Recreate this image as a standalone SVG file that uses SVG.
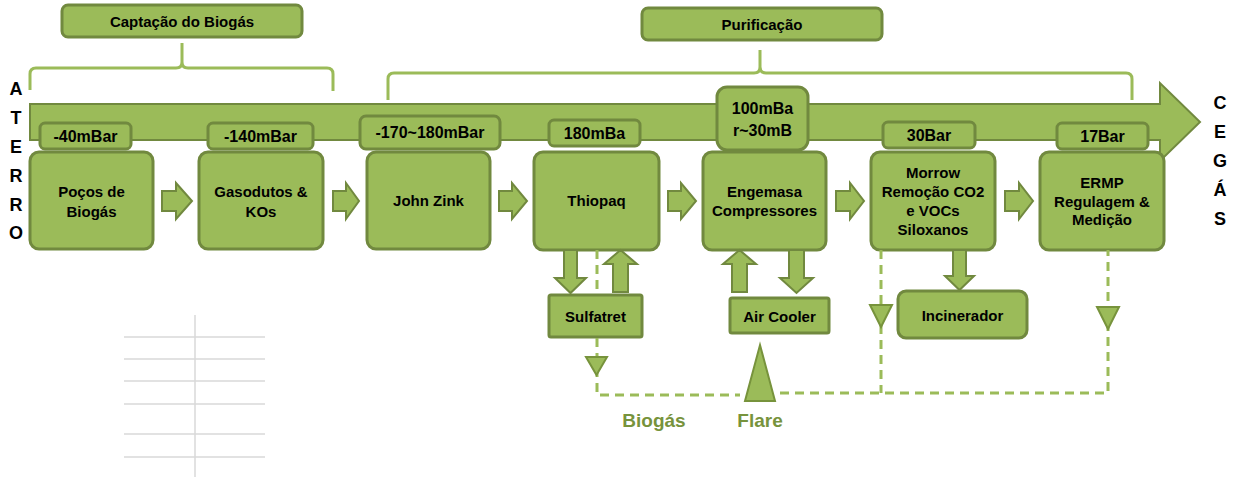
<svg xmlns="http://www.w3.org/2000/svg" width="1236" height="477" viewBox="0 0 1236 477">
<style>
.box{fill:#9BBB59;stroke:#71893F;stroke-width:3}
.arr{fill:#9BBB59;stroke:#71893F;stroke-width:2;stroke-linejoin:miter}
.brace{fill:none;stroke:#9BBB59;stroke-width:3;stroke-linejoin:round}
.dash{fill:none;stroke:#9BBB59;stroke-width:3;stroke-dasharray:9,6}
.tri{fill:#9BBB59;stroke:#77933C;stroke-width:2}
.grid{stroke:#D9D9D9;stroke-width:1.5}
text{font-family:"Liberation Sans",Arial,sans-serif;font-weight:bold;fill:#000;text-anchor:middle;dominant-baseline:central}
.t{font-size:15px}
.p{font-size:16px}
.side{font-size:18px}
.g{font-size:19px;fill:#77933C}
</style>
<g id="table">
<line class="grid" x1="195" y1="315" x2="195" y2="477"/>
<line class="grid" x1="124" y1="337" x2="265" y2="337"/>
<line class="grid" x1="124" y1="359" x2="265" y2="359"/>
<line class="grid" x1="124" y1="381" x2="265" y2="381"/>
<line class="grid" x1="124" y1="404" x2="265" y2="404"/>
<line class="grid" x1="124" y1="434" x2="265" y2="434"/>
<line class="grid" x1="124" y1="457" x2="265" y2="457"/>
</g>
<g id="braces">
<path class="brace" d="M30,90 L30,74 Q30,68 36,68 L176,68 Q182,68 182,62 L182,43 M182,43 L182,62 Q182,68 188,68 L327,68 Q333,68 333,74 L333,91"/>
<path class="brace" d="M388,100 L388,79 Q388,73 394,73 L754,73 Q760,73 760,67 L760,50 M760,50 L760,67 Q760,73 766,73 L1126,73 Q1132,73 1132,79 L1132,100"/>
</g>
<g id="group-captacao">
<rect class="box" x="62" y="5" width="240" height="32" rx="6"/>
<text class="t" x="182" y="21">Captação do Biogás</text>
</g>
<g id="group-purificacao">
<rect class="box" x="642" y="8" width="240" height="32" rx="6"/>
<text class="t" x="762" y="24">Purificação</text>
</g>
<g id="main-arrow">
<path class="arr" d="M30,104 L1160,104 L1160,83 L1200,122 L1160,161 L1160,140 L30,140 Z"/>
</g>
<g id="side-labels">
<text class="side" x="16" y="89">A</text>
<text class="side" x="16" y="118">T</text>
<text class="side" x="16" y="147">E</text>
<text class="side" x="16" y="176">R</text>
<text class="side" x="16" y="205">R</text>
<text class="side" x="16" y="233">O</text>
<text class="side" x="1220" y="103">C</text>
<text class="side" x="1220" y="132">E</text>
<text class="side" x="1220" y="161">G</text>
<text class="side" x="1220" y="190">Á</text>
<text class="side" x="1220" y="219">S</text>
</g>
<g id="p1"><rect class="box" x="40" y="123" width="91" height="26" rx="5"/><text class="p" x="85.5" y="136">-40mBar</text></g>
<g id="p2"><rect class="box" x="208" y="123" width="105" height="26" rx="5"/><text class="p" x="260.5" y="136">-140mBar</text></g>
<g id="p3"><rect class="box" x="360" y="116" width="140" height="33" rx="6"/><text class="p" x="430" y="132">-170~180mBar</text></g>
<g id="p4"><rect class="box" x="549" y="120" width="91" height="26" rx="5"/><text class="p" x="594.5" y="133">180mBa</text></g>
<g id="p5"><rect class="box" x="717" y="87" width="91" height="63" rx="10"/><text class="p" x="762.5" y="108">100mBa</text><text class="p" x="762.5" y="130">r~30mB</text></g>
<g id="p6"><rect class="box" x="883" y="122" width="92" height="26" rx="5"/><text class="p" x="929" y="135">30Bar</text></g>
<g id="p7"><rect class="box" x="1057" y="123" width="91" height="26" rx="5"/><text class="p" x="1102.5" y="136">17Bar</text></g>
<g id="pocos"><rect class="box" x="30" y="152" width="123" height="97" rx="9"/><text class="t" x="91.5" y="191">Poços de</text><text class="t" x="91.5" y="211">Biogás</text></g>
<g id="gasodutos"><rect class="box" x="199" y="152" width="124" height="97" rx="9"/><text class="t" x="261" y="191">Gasodutos &amp;</text><text class="t" x="261" y="211">KOs</text></g>
<g id="johnzink"><rect class="box" x="367" y="152" width="123" height="97" rx="9"/><text class="t" x="428.5" y="200">John Zink</text></g>
<g id="thiopaq"><rect class="box" x="534" y="152" width="125" height="98" rx="9"/><text class="t" x="596.5" y="200">Thiopaq</text></g>
<g id="engemasa"><rect class="box" x="703" y="152" width="123" height="98" rx="9"/><text class="t" x="764.5" y="191">Engemasa</text><text class="t" x="764.5" y="210">Compressores</text></g>
<g id="morrow"><rect class="box" x="871" y="152" width="124" height="98" rx="9"/><text class="t" x="933" y="172">Morrow</text><text class="t" x="933" y="191">Remoção CO2</text><text class="t" x="933" y="210">e VOCs</text><text class="t" x="933" y="229">Siloxanos</text></g>
<g id="ermp"><rect class="box" x="1040" y="152" width="124" height="98" rx="9"/><text class="t" x="1102" y="182">ERMP</text><text class="t" x="1102" y="201">Regulagem &amp;</text><text class="t" x="1102" y="219">Medição</text></g>
<g id="sulfatret"><rect class="box" x="549" y="295" width="93" height="42" rx="2"/><text class="t" x="595.5" y="316">Sulfatret</text></g>
<g id="aircooler"><rect class="box" x="730" y="298" width="99" height="35" rx="2"/><text class="t" x="779.5" y="316">Air Cooler</text></g>
<g id="incinerador"><rect class="box" x="898" y="291" width="129" height="47" rx="8"/><text class="t" x="962.5" y="315">Incinerador</text></g>
<g id="flare"><path class="tri" d="M760,345 L775,401 L745,401 Z"/></g>
<g id="labels">
<text class="g" x="654" y="420">Biogás</text>
<text class="g" x="760" y="420">Flare</text>
</g>
<g id="connectors">
<path class="arr" d="M162,191 L176,191 L176,183 L192,201 L176,219 L176,211 L162,211 Z"/>
<path class="arr" d="M333,191 L346,191 L346,183 L359,201 L346,219 L346,211 L333,211 Z"/>
<path class="arr" d="M499,191 L512,191 L512,183 L527,201 L512,219 L512,211 L499,211 Z"/>
<path class="arr" d="M668,191 L681,191 L681,183 L696,201 L681,219 L681,211 L668,211 Z"/>
<path class="arr" d="M836,191 L850,191 L850,183 L864,201 L850,219 L850,211 L836,211 Z"/>
<path class="arr" d="M1005,191 L1019,191 L1019,183 L1033,201 L1019,219 L1019,211 L1005,211 Z"/>
<path class="arr" d="M564,250 L577,250 L577,278 L586,278 L570.5,293 L555,278 L564,278 Z"/>
<path class="arr" d="M613,292 L628,292 L628,264 L637,264 L620.5,250 L604,264 L613,264 Z"/>
<path class="arr" d="M732,292 L747,292 L747,264 L756,264 L739.5,250 L723,264 L732,264 Z"/>
<path class="arr" d="M789,250 L804,250 L804,278 L813,278 L796.5,293 L780,278 L789,278 Z"/>
<path class="arr" d="M953,250 L966,250 L966,276 L974,276 L959.5,290 L945,276 L953,276 Z"/>
<path class="dash" d="M597,250 L597,293"/>
<path class="dash" d="M597,338 L597,395 L740,395"/>
<path class="dash" d="M881,250 L881,393 M780,393 L1108,393 L1108,250"/>
<path class="tri" d="M586,357 L607,357 L596.5,375 Z"/>
<path class="tri" d="M870,305 L892,305 L881,327 Z"/>
<path class="tri" d="M1097,307 L1119,307 L1108,329 Z"/>
</g>
</svg>
